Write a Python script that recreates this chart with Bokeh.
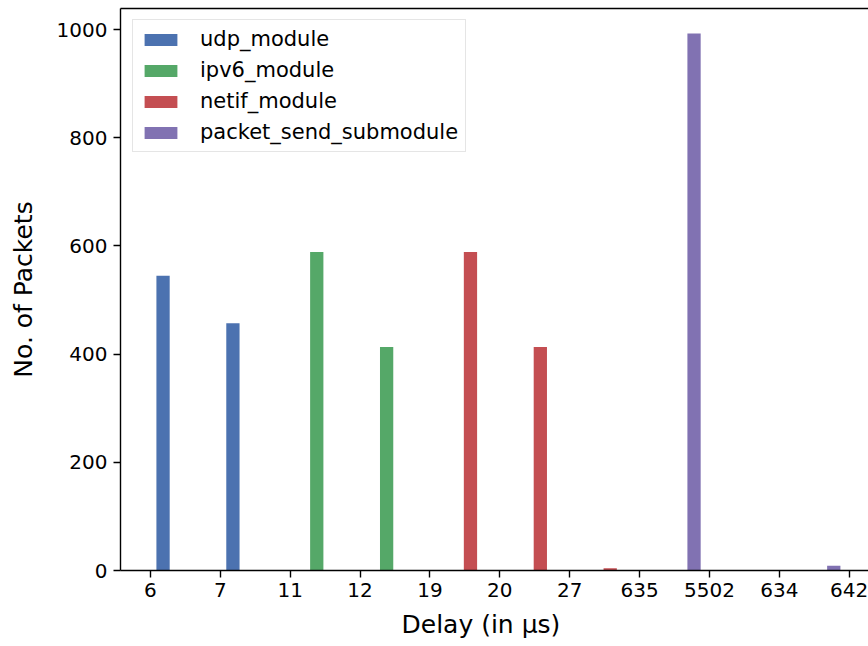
from bokeh.plotting import figure
from bokeh.models import Range1d, FixedTicker, LinearAxis, Title
from bokeh.embed import file_html
from bokeh.resources import INLINE

# ---- data ----
categories = ["6", "7", "11", "12", "19", "20", "27", "635", "5502", "634", "642"]
series_names = ["udp_module", "ipv6_module", "netif_module", "packet_send_submodule"]
udp_idx = [0, 1]
udp_vals = [545, 457]
ipv6_idx = [2, 3]
ipv6_vals = [589, 413]
netif_idx = [4, 5, 6]
netif_vals = [589, 413, 4]
pss_idx = [7, 9]
pss_vals = [993, 9]
y_ticks = [0, 200, 400, 600, 800, 1000]
x_label = "Delay (in µs)"
y_label = "No. of Packets"

colors = ["#4C72B0", "#55A868", "#C44E52", "#8172B2"]
offsets = [0.18, 0.38, 0.58, 0.78]
bar_w = 0.19

FONT = "DejaVu Sans"

p = figure(width=868, height=646, output_backend="svg", toolbar_location=None,
           x_range=Range1d(-0.429, 10.277), y_range=Range1d(0, 1039),
           min_border_left=120, min_border_right=0, min_border_top=8, min_border_bottom=76)
p.outline_line_color = None
p.xgrid.visible = False
p.ygrid.visible = False
p.background_fill_color = "white"
p.border_fill_color = "white"

series = [(udp_idx, udp_vals), (ipv6_idx, ipv6_vals), (netif_idx, netif_vals), (pss_idx, pss_vals)]
for (idx, vals), name, col, off in zip(series, series_names, colors, offsets):
    xs = [i + off for i in idx]
    p.vbar(x=xs, top=vals, width=bar_w, bottom=0, fill_color=col, line_color=None,
           legend_label=name)

# axes styling
for ax in (p.xaxis[0], p.yaxis[0]):
    ax.axis_line_color = "black"
    ax.axis_line_width = 1.4
    ax.major_tick_line_color = "black"
    ax.major_tick_line_width = 1.4
    ax.major_tick_out = 7
    ax.major_tick_in = 0
    ax.minor_tick_line_color = None
    ax.major_label_text_font = FONT
    ax.major_label_text_font_size = "20px"
    ax.major_label_text_color = "black"
    ax.axis_label_text_font = FONT
    ax.axis_label_text_font_size = "25px"
    ax.axis_label_text_font_style = "normal"
    ax.axis_label_text_color = "black"

p.xaxis[0].ticker = FixedTicker(ticks=list(range(len(categories))))
p.xaxis[0].major_label_overrides = {i: c for i, c in enumerate(categories)}
p.xaxis[0].major_label_standoff = 5

p.yaxis[0].ticker = FixedTicker(ticks=y_ticks)
p.yaxis[0].major_label_standoff = 6
p.yaxis[0].axis_label = y_label
p.yaxis[0].axis_label_standoff = 16

# x-axis label, placed as in the reference (left of the frame centre)
xt = Title(text=x_label, align="left", offset=281, standoff=16,
           text_font=FONT, text_font_size="25px", text_font_style="normal",
           text_color="black")
p.add_layout(xt, "below")

# top spine
top = LinearAxis(ticker=FixedTicker(ticks=[], minor_ticks=[]))
top.axis_line_color = "black"
top.axis_line_width = 1.4
top.major_tick_line_color = None
top.minor_tick_line_color = None
top.major_label_text_font_size = "0px"
top.major_label_standoff = 0
p.add_layout(top, "above")

lg = p.legend[0]
lg.location = (12, 418)
lg.margin = 0
lg.padding = 7
lg.spacing = 7
lg.glyph_width = 41
lg.glyph_height = 15
lg.label_standoff = 19
lg.label_text_font = FONT
lg.label_text_font_size = "21px"
lg.label_text_color = "black"
lg.border_line_color = "#cccccc"
lg.border_line_width = 1
lg.background_fill_color = "white"
lg.background_fill_alpha = 0.8

open("out.html", "w").write(file_html(p, INLINE))
